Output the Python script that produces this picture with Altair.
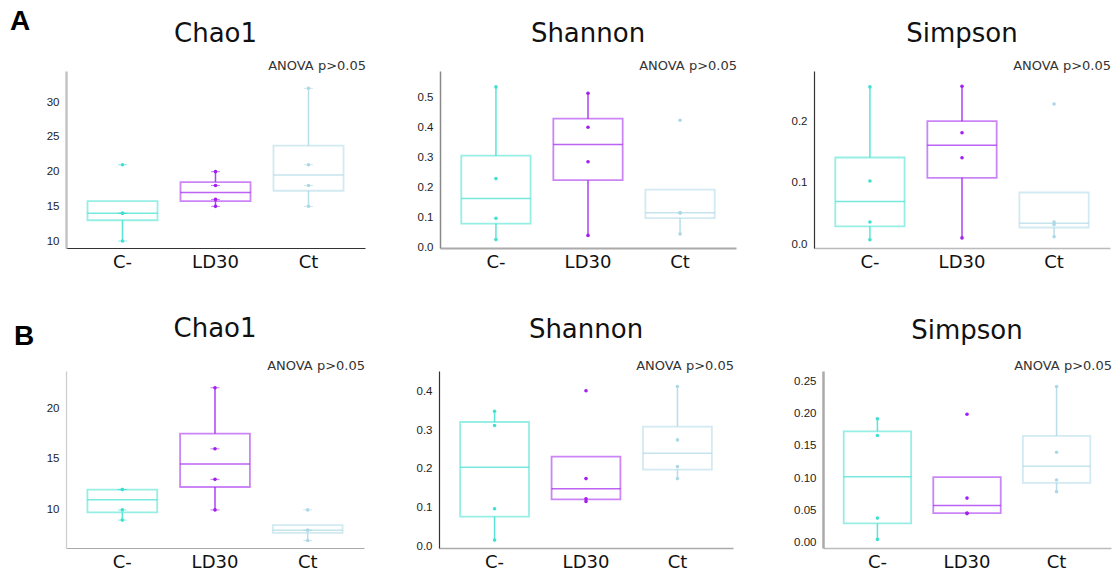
import altair as alt
import numpy as np
import pandas as pd

GROUPS = ["C-", "LD30", "Ct"]
COLORS = ["#40E0D0", "#A020F0", "#ADD8E6"]
PANEL_TITLES = ["Chao1", "Shannon", "Simpson"]
ROW_LABELS = ["A", "B"]
ANOVA_TEXT = "ANOVA p>0.05"

# sample values per group (C-, LD30, Ct)
A_CHAO1 = [[10, 14, 14, 21], [15, 16, 18, 20], [15, 18, 21, 32]]
A_SHANNON = [[0.026, 0.097, 0.229, 0.534], [0.040, 0.285, 0.400, 0.513], [0.045, 0.115, 0.115, 0.423]]
A_SIMPSON = [[0.007, 0.036, 0.103, 0.257], [0.010, 0.141, 0.182, 0.258], [0.012, 0.032, 0.036, 0.229]]
B_CHAO1 = [[9, 10, 12, 12], [10, 13, 16, 22], [7, 8, 8, 10]]
B_SHANNON = [[0.016, 0.097, 0.312, 0.349], [0.116, 0.123, 0.175, 0.402], [0.175, 0.206, 0.275, 0.413]]
B_SIMPSON = [[0.005, 0.038, 0.166, 0.192], [0.045, 0.046, 0.069, 0.199], [0.079, 0.097, 0.140, 0.242]]

# y-axis tick labels
A_CHAO1_TICKS = [10, 15, 20, 25, 30]
A_SHANNON_TICKS = [0.0, 0.1, 0.2, 0.3, 0.4, 0.5]
A_SIMPSON_TICKS = [0.0, 0.1, 0.2]
B_CHAO1_TICKS = [10, 15, 20]
B_SHANNON_TICKS = [0.0, 0.1, 0.2, 0.3, 0.4]
B_SIMPSON_TICKS = [0.0, 0.05, 0.10, 0.15, 0.20, 0.25]

H = 177
PAD_IN = 0.247
PAD_OUT = 0.231

color = alt.Color("group:N", scale=alt.Scale(domain=GROUPS, range=COLORS), legend=None)


def box_stats(values_lists):
    rows = []
    for g, vals in zip(GROUPS, values_lists):
        v = np.sort(np.asarray(vals, dtype=float))
        q1, med, q3 = np.percentile(v, [25, 50, 75])
        iqr = q3 - q1
        hi = max(v[v <= q3 + 1.5 * iqr].max(), q3)
        lo = min(v[v >= q1 - 1.5 * iqr].min(), q1)
        rows.append(dict(group=g, q1=q1, med=med, q3=q3, lo=lo, hi=hi))
    return pd.DataFrame(rows)


def points(values_lists):
    rows = []
    for g, vals in zip(GROUPS, values_lists):
        for v in vals:
            rows.append(dict(group=g, value=v))
    return pd.DataFrame(rows)


def panel(values_lists, title, domain, ticks, fmt, W, ydc, ydw, xdc, xdw,
          title_y, dashes=False, row_label=None, label_x=-56, label_y=-49):
    step = W / (3 - PAD_IN + 2 * PAD_OUT)
    bw = step * (1 - PAD_IN)
    bdf = box_stats(values_lists)
    pdf = points(values_lists)

    x = alt.X("group:N", sort=GROUPS,
              scale=alt.Scale(domain=GROUPS, paddingInner=PAD_IN, paddingOuter=PAD_OUT),
              axis=alt.Axis(title=None, labelAngle=0, labelFontSize=18, labelFont="DejaVu Sans",
                            labelColor="#111", ticks=False, domainColor=xdc, domainWidth=xdw,
                            labelPadding=5))
    yscale = alt.Scale(domain=domain, nice=False, zero=False)
    yaxis = alt.Axis(title=None, values=ticks, format=fmt, ticks=False, grid=False,
                     labelFontSize=11.5, labelFont="Liberation Sans", labelColor="#222",
                     labelPadding=7, domainColor=ydc, domainWidth=ydw)

    def Y(f):
        return alt.Y(f, scale=yscale, axis=yaxis, title=None)

    base_b = alt.Chart(bdf)
    box = base_b.mark_bar(filled=False, strokeWidth=1.8, strokeOpacity=0.55).encode(
        x=x, y=Y("q3:Q"), y2="q1:Q", color=color)
    wh_up = base_b.mark_rule(strokeWidth=1.5, opacity=0.85).encode(
        x=x, y=Y("q3:Q"), y2="hi:Q", color=color)
    wh_lo = base_b.mark_rule(strokeWidth=1.5, opacity=0.85).encode(
        x=x, y=Y("lo:Q"), y2="q1:Q", color=color)
    med = base_b.mark_tick(thickness=1.5, size=bw).encode(x=x, y=Y("med:Q"), color=color)
    pts = alt.Chart(pdf).mark_circle(size=13, opacity=1).encode(x=x, y=Y("value:Q"), color=color)
    layers = [box, wh_up, wh_lo, med, pts]
    if dashes:
        layers.append(alt.Chart(pdf).mark_tick(size=9, thickness=1, opacity=0.6).encode(
            x=x, y=Y("value:Q"), color=color))

    ttl = alt.Chart(pd.DataFrame({"t": [title]})).mark_text(
        fontSize=26, font="DejaVu Sans", color="#111", align="center", baseline="middle"
    ).encode(x=alt.value(W / 2), y=alt.value(title_y), text="t:N")
    anova = alt.Chart(pd.DataFrame({"t": [ANOVA_TEXT]})).mark_text(
        fontSize=13, font="DejaVu Sans", color="#333", align="right", baseline="middle"
    ).encode(x=alt.value(W + 1), y=alt.value(-5), text="t:N")
    layers += [ttl, anova]
    if row_label:
        lab = alt.Chart(pd.DataFrame({"t": [row_label]})).mark_text(
            fontSize=28, font="Liberation Sans", fontWeight="bold", color="#000",
            align="left", baseline="middle"
        ).encode(x=alt.value(label_x), y=alt.value(label_y), text="t:N")
        layers.append(lab)
    return alt.layer(*layers).properties(width=W, height=H)


a1 = panel(A_CHAO1, PANEL_TITLES[0], [9, 34.5], A_CHAO1_TICKS, "d", 299,
           "#c4c4c4", 2.5, "#333", 1.2, -37, dashes=True, row_label=ROW_LABELS[0],
           label_x=-56, label_y=-49)
a2 = panel(A_SHANNON, PANEL_TITLES[1], [-0.002, 0.587], A_SHANNON_TICKS, ".1f", 296,
           "#888", 1.5, "#aaa", 2, -37)
a3 = panel(A_SIMPSON, PANEL_TITLES[2], [-0.0065, 0.283], A_SIMPSON_TICKS, ".1f", 296,
           "#333", 1.2, "#bbb", 1.5, -37)
b1 = panel(B_CHAO1, PANEL_TITLES[0], [6.26, 23.64], B_CHAO1_TICKS, "d", 298,
           "#ccc", 1.2, "#aaa", 1.2, -42, dashes=True, row_label=ROW_LABELS[1],
           label_x=-52, label_y=-34)
b2 = panel(B_SHANNON, PANEL_TITLES[1], [-0.0044, 0.453], B_SHANNON_TICKS, ".1f", 294,
           "#333", 1.2, "#aaa", 1.5, -41)
b3 = panel(B_SIMPSON, PANEL_TITLES[2], [-0.0083, 0.266], B_SIMPSON_TICKS, ".2f", 288,
           "#aaa", 2.5, "#bbb", 1.5, -40)

row_a = alt.hconcat(alt.hconcat(a1, a2, spacing=51), a3, spacing=54)
row_b = alt.hconcat(alt.hconcat(b1, b2, spacing=51), b3, spacing=59)

chart = alt.vconcat(row_a, row_b, spacing=45).resolve_scale(
    x="independent", y="independent"
).properties(
    padding={"left": 10, "top": 8, "right": 4, "bottom": 2},
    background="white"
).configure_view(stroke=None)

chart.save("out.html", embed_options={"renderer": "svg", "actions": False})
